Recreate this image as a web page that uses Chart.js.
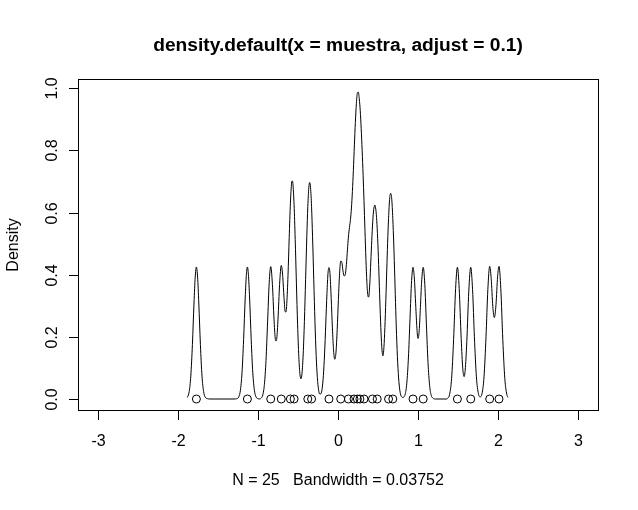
<!DOCTYPE html>
<html>
<head>
<meta charset="utf-8">
<script src="https://cdn.jsdelivr.net/npm/chart.js@4.4.1/dist/chart.umd.min.js"></script>
<style>
  html, body { margin: 0; padding: 0; background: #fff; }
</style>
</head>
<body>
<canvas id="densityChart" width="638" height="510"></canvas>
<script>
'use strict';

// sample values, drawn as open circles on y = 0
var muestra = [-1.77, -1.1325, -0.841, -0.709, -0.595, -0.549, -0.3775, -0.3305, -0.113,
               0.034, 0.13, 0.20, 0.242, 0.274, 0.325, 0.431, 0.49, 0.632, 0.685,
               0.9375, 1.065, 1.4925, 1.659, 1.896, 2.0125];

// density curve (x, y pairs)
var densX = [
  -1.8826, -1.86, -1.84, -1.82, -1.80, -1.785, -1.77, -1.755, -1.74, -1.72, -1.70, -1.68, -1.66, -1.63, -1.60, -1.30,
  -1.265, -1.24, -1.22, -1.20, -1.18, -1.16, -1.145, -1.1325, -1.12, -1.105, -1.085, -1.065, -1.045, -1.025, -1.00, -0.98,
  -0.96, -0.94, -0.92, -0.90, -0.88, -0.86, -0.841, -0.82, -0.80, -0.785, -0.775, -0.765, -0.75, -0.73, -0.709,
  -0.69, -0.675, -0.66, -0.65, -0.64, -0.625, -0.61, -0.595, -0.58, -0.572, -0.564, -0.549, -0.535, -0.52, -0.505,
  -0.49, -0.475, -0.463, -0.45, -0.435, -0.42, -0.405, -0.39, -0.3775, -0.365, -0.354, -0.343, -0.3305, -0.318,
  -0.303, -0.288, -0.273, -0.258, -0.243, -0.228, -0.213, -0.198, -0.183, -0.168, -0.153, -0.138, -0.125, -0.113,
  -0.10, -0.085, -0.07, -0.055, -0.04, -0.025, -0.01, 0.005, 0.02, 0.034, 0.048, 0.062, 0.077, 0.09, 0.105,
  0.118, 0.13, 0.143, 0.156, 0.168, 0.18, 0.192, 0.205, 0.217, 0.23, 0.242, 0.254, 0.266, 0.278, 0.29, 0.302,
  0.314, 0.325, 0.337, 0.349, 0.361, 0.373, 0.383, 0.395, 0.407, 0.419, 0.431, 0.443, 0.455, 0.461, 0.467,
  0.479, 0.49, 0.502, 0.514, 0.526, 0.538, 0.55, 0.562, 0.574, 0.586, 0.598, 0.61, 0.62, 0.632, 0.645, 0.6585,
  0.672, 0.685, 0.697, 0.71, 0.722, 0.735, 0.75, 0.765, 0.78, 0.795, 0.81, 0.825, 0.84, 0.86, 0.88, 0.90,
  0.92, 0.9375, 0.955, 0.975, 0.99, 1.001, 1.015, 1.03, 1.045, 1.065, 1.085, 1.105, 1.125, 1.145, 1.165, 1.185,
  1.22, 1.36, 1.37, 1.395, 1.42, 1.445, 1.47, 1.4925, 1.515, 1.54, 1.56, 1.576, 1.59, 1.61, 1.635, 1.659,
  1.682, 1.705, 1.73, 1.755, 1.778, 1.80, 1.825, 1.85, 1.873, 1.896, 1.915, 1.935, 1.954, 1.975, 1.995, 2.0125,
  2.035, 2.06, 2.085, 2.11, 2.125
];
var densY = [
  0.005, 0.024, 0.074, 0.175, 0.309, 0.392, 0.425, 0.392, 0.309, 0.175, 0.074, 0.024, 0.006, 0.001, 0, 0,
  0.001, 0.007, 0.028, 0.084, 0.191, 0.325, 0.401, 0.425, 0.401, 0.325, 0.191, 0.084, 0.028, 0.007, 0.001, 0,
  0.003, 0.013, 0.047, 0.124, 0.248, 0.374, 0.426, 0.369, 0.257, 0.196, 0.187, 0.196, 0.257, 0.369, 0.430,
  0.391, 0.327, 0.281, 0.280, 0.308, 0.398, 0.519, 0.630, 0.695, 0.702, 0.694, 0.625, 0.514, 0.373, 0.239,
  0.137, 0.078, 0.065, 0.082, 0.145, 0.250, 0.384, 0.522, 0.619, 0.680, 0.697, 0.680, 0.619, 0.522,
  0.384, 0.249, 0.140, 0.069, 0.030, 0.016, 0.017, 0.034, 0.075, 0.145, 0.241, 0.340, 0.405, 0.423,
  0.403, 0.324, 0.229, 0.155, 0.128, 0.151, 0.224, 0.320, 0.405, 0.444, 0.440, 0.413, 0.396, 0.400, 0.433,
  0.480, 0.521, 0.552, 0.578, 0.615, 0.668, 0.735, 0.818, 0.890, 0.952, 0.985, 0.988, 0.966, 0.928, 0.870, 0.800,
  0.720, 0.638, 0.543, 0.450, 0.375, 0.334, 0.328, 0.360, 0.423, 0.494, 0.557, 0.602, 0.622, 0.624, 0.620,
  0.594, 0.549, 0.477, 0.386, 0.293, 0.213, 0.158, 0.139, 0.166, 0.230, 0.318, 0.418, 0.501, 0.581, 0.643, 0.662,
  0.643, 0.581, 0.499, 0.390, 0.285, 0.184, 0.098, 0.045, 0.017, 0.007, 0.005, 0.007, 0.015, 0.051, 0.132, 0.258,
  0.381, 0.424, 0.386, 0.282, 0.214, 0.195, 0.220, 0.295, 0.376, 0.424, 0.369, 0.241, 0.118, 0.044, 0.012, 0.003,
  0, 0, 0.002, 0.015, 0.066, 0.191, 0.355, 0.424, 0.355, 0.194, 0.097, 0.072, 0.093, 0.184, 0.347, 0.424,
  0.352, 0.200, 0.071, 0.017, 0.007, 0.017, 0.071, 0.200, 0.352, 0.427, 0.388, 0.298, 0.262, 0.304, 0.394, 0.427,
  0.355, 0.191, 0.066, 0.015, 0.005
];

var xTicks = [-3, -2, -1, 0, 1, 2, 3];
var xTickLabels = ['-3', '-2', '-1', '0', '1', '2', '3'];
var yTicks = [0, 0.2, 0.4, 0.6, 0.8, 1.0];
var yTickLabels = ['0.0', '0.2', '0.4', '0.6', '0.8', '1.0'];

var mainTitle = 'density.default(x = muestra, adjust = 0.1)';
var xLabel = 'N = 25   Bandwidth = 0.03752';
var yLabel = 'Density';

var fontFamily = '"Liberation Sans", Arial, Helvetica, sans-serif';

var curvePoints = densX.map(function (x, i) { return { x: x, y: densY[i] }; });
var rugPoints = muestra.map(function (x) { return { x: x, y: 0 }; });

// base-graphics style frame, ticks and labels drawn from the chart scales
var rAxes = {
    id: 'rAxes',
    afterDraw: function (chart) {
        var ctx = chart.ctx;
        var area = chart.chartArea;
        var xs = chart.scales.x, ys = chart.scales.y;
        var midX = (area.left + area.right) / 2;
        var midY = (area.top + area.bottom) / 2;

        ctx.save();
        ctx.strokeStyle = '#000';
        ctx.fillStyle = '#000';
        ctx.lineWidth = 1;

        ctx.strokeRect(area.left + 0.5, area.top + 0.5, area.right - area.left, area.bottom - area.top - 1);

        ctx.font = '16px ' + fontFamily;
        ctx.textAlign = 'center';
        ctx.textBaseline = 'alphabetic';

        xTicks.forEach(function (v, i) {
            var px = Math.round(xs.getPixelForValue(v)) + 0.5;
            ctx.beginPath();
            ctx.moveTo(px, area.bottom - 0.5);
            ctx.lineTo(px, area.bottom + 9);
            ctx.stroke();
            ctx.fillText(xTickLabels[i], px, 446);
        });

        yTicks.forEach(function (v, i) {
            var py = Math.round(ys.getPixelForValue(v)) + 0.5;
            ctx.beginPath();
            ctx.moveTo(area.left + 0.5, py);
            ctx.lineTo(area.left - 9, py);
            ctx.stroke();
            ctx.save();
            ctx.translate(57, py);
            ctx.rotate(-Math.PI / 2);
            ctx.fillText(yTickLabels[i], 0, 0);
            ctx.restore();
        });

        ctx.fillText(xLabel, midX, 485);

        ctx.save();
        ctx.translate(18, midY);
        ctx.rotate(-Math.PI / 2);
        ctx.fillText(yLabel, 0, 0);
        ctx.restore();

        ctx.font = 'bold 19.2px ' + fontFamily;
        ctx.fillText(mainTitle, midX, 51);

        ctx.restore();
    }
};

var densityChart = new Chart(document.getElementById('densityChart'), {
    type: 'line',
    data: {
        datasets: [
            {
                label: 'density',
                data: curvePoints,
                borderColor: '#000',
                borderWidth: 1,
                pointRadius: 0,
                fill: false,
                cubicInterpolationMode: 'monotone'
            },
            {
                label: 'muestra',
                data: rugPoints,
                showLine: false,
                pointStyle: 'circle',
                pointRadius: 4,
                pointBorderWidth: 1,
                pointBorderColor: '#000',
                pointBackgroundColor: 'rgba(0,0,0,0)'
            }
        ]
    },
    options: {
        responsive: false,
        animation: false,
        devicePixelRatio: 1,
        layout: { padding: { left: 78, right: 40, top: 79, bottom: 99 } },
        plugins: {
            legend: { display: false },
            tooltip: { enabled: false },
            title: { display: false }
        },
        scales: {
            x: { type: 'linear', display: false, min: -3.25, max: 3.25 },
            y: { type: 'linear', display: false, min: -0.0386, max: 1.03 }
        }
    },
    plugins: [rAxes]
});
</script>
</body>
</html>
